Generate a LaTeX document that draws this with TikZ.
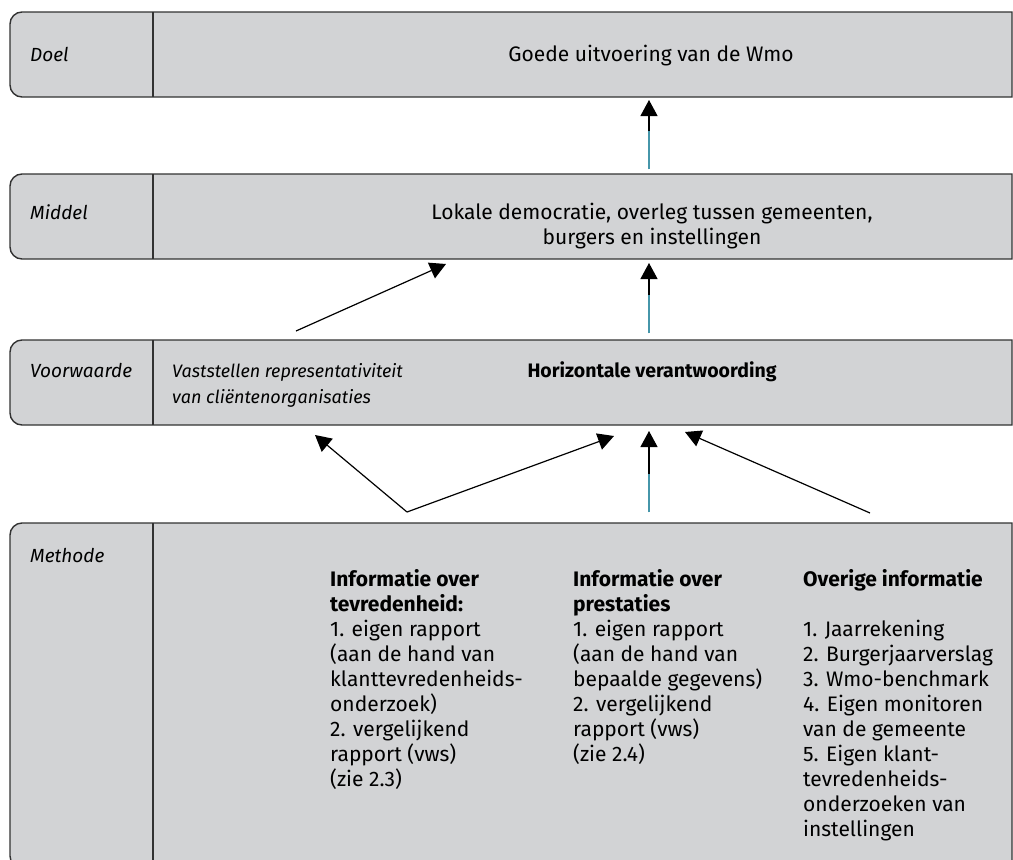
\documentclass[tikz,border=0pt]{standalone}
\usepackage{fontspec}
\setmainfont{Fira Sans}
\usetikzlibrary{arrows.meta}

\definecolor{boxgray}{RGB}{210,211,213}
\definecolor{boxline}{RGB}{50,50,50}
\definecolor{shaftteal}{RGB}{70,150,170}
\newcommand{\diafont}{\fontsize{21}{25}\selectfont}
\newcommand{\labelfont}{\fontsize{19}{25}\selectfont\itshape}
\newcommand{\leftlines}[1]{\begin{tabular}[t]{@{}l@{}}#1\end{tabular}}
\newcommand{\midlines}[1]{\begin{tabular}[t]{@{}c@{}}#1\end{tabular}}

\tikzset{
  rowbox/.style={fill=boxgray, draw=boxline, line width=1.4pt},
  rowlabel/.style={anchor=base west, inner sep=0pt, font=\labelfont},
  rowtext/.style={anchor=base, inner sep=0pt, font=\diafont},
  coltext/.style={anchor=base west, inner sep=0pt, font=\diafont},
  link/.style={draw=black, line width=1.2pt, -{Triangle[length=16pt,width=17pt]}},
}

% one row of the scheme: top, bottom
\newcommand{\rowshape}[2]{%
  \path[rowbox] (1012,#1) -- (22,#1) arc[start angle=90, end angle=180, radius=12pt]
    -- (10,#2-12) arc[start angle=180, end angle=270, radius=12pt] -- (1012,#2) -- cycle;
  \draw[boxline, line width=1.4pt] (153,#1) -- (153,#2);
}

\begin{document}
\begin{tikzpicture}[x=1pt,y=-1pt]
\useasboundingbox (0,0) rectangle (1013,860);
\clip (0,0) rectangle (1013,860);

% rows
\rowshape{12}{97}
\rowshape{174}{259}
\rowshape{340}{425}
\rowshape{523}{868}

% labels
\node[rowlabel] (doel) at (30,61) {Doel};
\node[rowlabel] (middel) at (30,219) {Middel};
\node[rowlabel] (voorwaarde) at (30,377) {Voorwaarde};
\node[rowlabel] (methode) at (30,562) {Methode};

% texts
\node[rowtext] (wmo) at (651,61) {Goede uitvoering van de Wmo};
\node[rowtext] (democratie) at (652,219) {\midlines{Lokale democratie, overleg tussen gemeenten,\\burgers en instellingen}};
\node[rowtext, font=\fontsize{19.5}{25}\selectfont\bfseries] (horizontaal) at (652,377) {Horizontale verantwoording};
\node[coltext, font=\fontsize{18}{26}\selectfont\itshape] (representatief) at (172,377) {\leftlines{Vaststellen representativiteit\\van cliëntenorganisaties}};

\node[coltext] (tevreden) at (330,586) {\leftlines{\textbf{Informatie over}\\\textbf{tevredenheid:}\\1. eigen rapport\\(aan de hand van\\klanttevredenheids-\\onderzoek)\\2. vergelijkend\\rapport (vws)\\(zie 2.3)}};
\node[coltext] (prestaties) at (573,586) {\leftlines{\textbf{Informatie over}\\\textbf{prestaties}\\1. eigen rapport\\(aan de hand van\\bepaalde gegevens)\\2. vergelijkend\\rapport (vws)\\(zie 2.4)}};
\node[coltext] (overig) at (803,586) {\leftlines{\textbf{Overige informatie}\\ \\1. Jaarrekening\\2. Burgerjaarverslag\\3. Wmo-benchmark\\4. Eigen monitoren\\van de gemeente\\5. Eigen klant-\\tevredenheids-\\onderzoeken van\\instellingen}};

% arrow ends
\coordinate (doelin) at (649,100);
\coordinate (middelout) at (649,169);
\coordinate (middelin) at (649,263);
\coordinate (middelinl) at (446,264);
\coordinate (voorwout) at (649,333);
\coordinate (voorwoutl) at (296,331);
\coordinate (voorwinl) at (315,435);
\coordinate (voorwinm) at (614,436);
\coordinate (voorwin) at (649,431);
\coordinate (voorwinr) at (685,432);
\coordinate (tevredenout) at (407,512);
\coordinate (prestatiesout) at (649,512);
\coordinate (overigout) at (870,513);

% arrows
\draw[link] (middelout) -- (doelin);
\draw[link] (voorwout) -- (middelin);
\draw[link] (voorwoutl) -- (middelinl);
\draw[link] (tevredenout) -- (voorwinl);
\draw[link] (tevredenout) -- (voorwinm);
\draw[link] (prestatiesout) -- (voorwin);
\draw[link] (overigout) -- (voorwinr);
\draw[shaftteal, line width=1.2pt] (middelout) -- ++(0,-38);
\draw[shaftteal, line width=1.2pt] (voorwout) -- ++(0,-38);
\draw[shaftteal, line width=1.2pt] (prestatiesout) -- ++(0,-38);
\end{tikzpicture}
\end{document}
